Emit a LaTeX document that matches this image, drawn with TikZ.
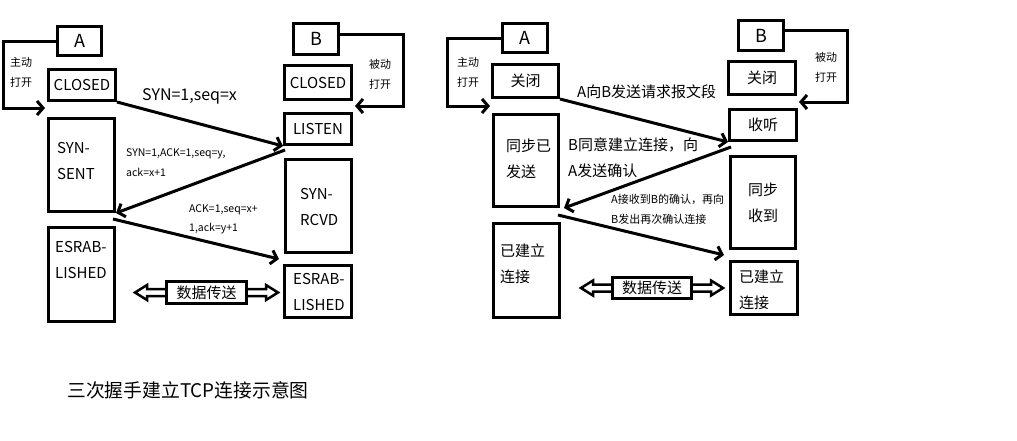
\documentclass[tikz,border=0pt]{standalone}
\usepackage{fontspec}
\setmainfont{Noto Sans CJK SC}
\usetikzlibrary{arrows.meta}
\begin{document}
\begin{tikzpicture}[x=1pt,y=-1pt,
  box/.style={draw,line width=3pt,inner sep=0pt,font=\fontsize{15}{18}\selectfont},
  txt/.style={inner sep=0pt,anchor=west,align=left,font=\fontsize{15}{26}\selectfont},
  small/.style={inner sep=0pt,anchor=west,align=left,font=\fontsize{11}{20}\selectfont},
  arr/.style={line width=3pt,-{Straight Barb[length=6pt,width=14pt]}},
  hollow/.style={line width=2.5pt,line join=miter}]
\fill[white] (0,0) rectangle (1017,440);
\useasboundingbox (0,0) rectangle (1017,440);

% ---------------- left: English state names ----------------
\node[box,minimum width=44,minimum height=29] (hA) at (79.5,41) {\fontsize{18}{20}\selectfont A};
\node[box,minimum width=67,minimum height=31] (closedA) at (82,85) {CLOSED};
\node[box,minimum width=66,minimum height=93] (synsent) at (81.5,165) {};
\node[box,minimum width=66,minimum height=94] (estA) at (81.5,274.5) {};
\node[box,minimum width=45,minimum height=31] (hB) at (316,39) {\fontsize{18}{20}\selectfont B};
\node[box,minimum width=67,minimum height=34] (closedB) at (318,82.5) {CLOSED};
\node[box,minimum width=67,minimum height=31] (listen) at (318,129) {LISTEN};
\node[box,minimum width=66,minimum height=93] (synrcvd) at (318.5,206) {};
\node[box,minimum width=67,minimum height=52] (estB) at (318,291.5) {};
\node[box,minimum width=80,minimum height=22] (dataL) at (206.5,292.5) {数据传送};

\node[txt] (t-synsent) at (57,160.5) {SYN-\\SENT};
\node[txt] (t-estA) at (55,260) {ESRAB-\\LISHED};
\node[txt] (t-synrcvd) at (300,206.5) {SYN-\\RCVD};
\node[txt] (t-estB) at (293,291.5) {ESRAB-\\LISHED};

% active / passive open loops
\node[small] (t-actL) at (10,72.5) {主动\\打开};
\node[small] (t-pasL) at (369,74.5) {被动\\打开};
\coordinate (openA) at (45,108);
\coordinate (cornA) at (3,108);
\draw[arr] (hA.west) -| (cornA) -- (openA);
\coordinate (openB) at (355,106);
\coordinate (cornB) at (403,106);
\draw[arr] ([yshift=5pt]hB.east) -| (cornB) -- (openB);

% handshake segments
\draw[arr] (closedA.south east) -- (listen.south west);
\draw[arr] ([shift={(2pt,-4pt)}]listen.south west) -- (synsent.south east);
\draw[arr] ([shift={(-3pt,-6pt)}]synsent.south east) -- ([shift={(-4pt,5pt)}]estB.north west);
\node[txt,font=\fontsize{16}{18}\selectfont] (l1) at (142,96) {SYN=1,seq=x};
\node[small,font=\fontsize{10.5}{20}\selectfont] (l2) at (126,163) {SYN=1,ACK=1,seq=y,\\ack=x+1};
\node[small,font=\fontsize{10.5}{19}\selectfont] (l3) at (189,219.5) {ACK=1,seq=x+\\1,ack=y+1};

% data transfer double arrows
\draw[hollow] ([yshift=3.5pt]dataL.west) -- ++(-18,0) -- ++(0,-4) -- ++(-12,7.5) -- ++(12,7.5) -- ++(0,-4) -- ++(18,0);
\draw[hollow] ([yshift=3.5pt]dataL.east) -- ++(18,0) -- ++(0,-4) -- ++(12,7.5) -- ++(-12,7.5) -- ++(0,-4) -- ++(-18,0);

% ---------------- right: Chinese state names ----------------
\node[box,minimum width=45,minimum height=29] (hA2) at (525,38) {\fontsize{18}{20}\selectfont A};
\node[box,minimum width=66,minimum height=33] (closeA2) at (525.5,81) {关闭};
\node[box,minimum width=65,minimum height=92] (synsent2) at (526,160.5) {};
\node[box,minimum width=66,minimum height=94] (estA2) at (526.5,270.5) {};
\node[box,minimum width=45,minimum height=30] (hB2) at (761,35.5) {\fontsize{18}{20}\selectfont B};
\node[box,minimum width=67,minimum height=33] (closeB2) at (762,78) {关闭};
\node[box,minimum width=67,minimum height=31] (listen2) at (763,125) {收听};
\node[box,minimum width=65,minimum height=92] (synrcvd2) at (763,202.5) {};
\node[box,minimum width=67,minimum height=53] (estB2) at (764,288) {};
\node[box,minimum width=79,minimum height=21] (dataR) at (652,288) {数据传送};

\node[txt] (t-synsent2) at (506,158.5) {同步已\\发送};
\node[txt] (t-estA2) at (500,264) {已建立\\连接};
\node[txt] (t-synrcvd2) at (748,202.5) {同步\\收到};
\node[txt] (t-estB2) at (739,289.5) {已建立\\连接};

\node[small] (t-actR) at (457,72.5) {主动\\打开};
\node[small] (t-pasR) at (815,67.5) {被动\\打开};
\coordinate (openA2) at (490,106);
\coordinate (cornA2) at (447,106);
\draw[arr] (hA2.west) -| (cornA2) -- (openA2);
\coordinate (openB2) at (799,102);
\coordinate (cornB2) at (847,102);
\draw[arr] ([yshift=5pt]hB2.east) -| (cornB2) -- (openB2);

\draw[arr] (closeA2.south east) -- (listen2.south west);
\draw[arr] ([shift={(3pt,-5pt)}]listen2.south west) -- ([shift={(4pt,0pt)}]synsent2.south east);
\draw[arr] ([shift={(-2pt,-7pt)}]synsent2.south east) -- ([shift={(-5pt,5pt)}]estB2.north west);
\node[txt,font=\fontsize{15}{18}\selectfont] (r1) at (577,92) {A向B发送请求报文段};
\node[txt] (r2) at (568,157.5) {B同意建立连接，向\\A发送确认};
\node[small] (r3) at (611,209) {A接收到B的确认，再向\\B发出再次确认连接};

\draw[hollow] ([yshift=3.5pt]dataR.west) -- ++(-18,0) -- ++(0,-4) -- ++(-12,7.5) -- ++(12,7.5) -- ++(0,-4) -- ++(18,0);
\draw[hollow] ([yshift=3.5pt]dataR.east) -- ++(18,0) -- ++(0,-4) -- ++(12,7.5) -- ++(-12,7.5) -- ++(0,-4) -- ++(-18,0);

% caption
\node[txt,font=\fontsize{18.8}{22}\selectfont] (title) at (67,390) {三次握手建立TCP连接示意图};
\end{tikzpicture}
\end{document}
